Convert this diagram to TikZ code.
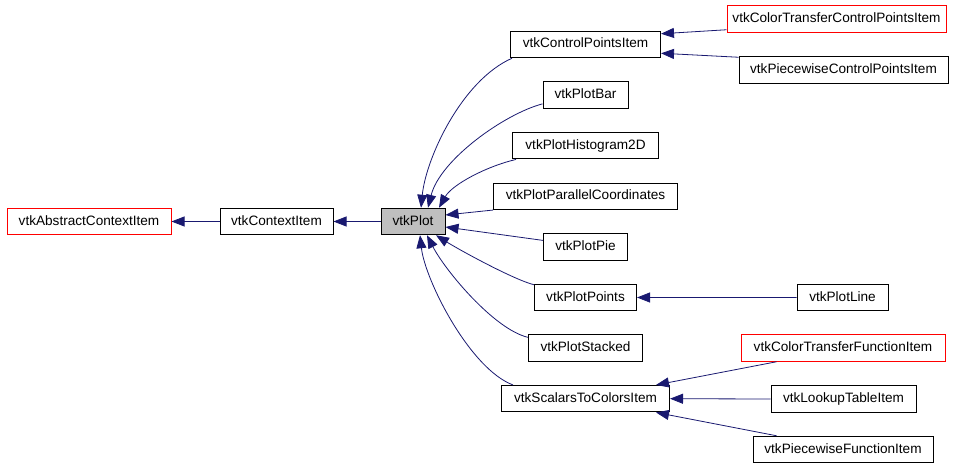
\documentclass[tikz,border=0pt]{standalone}
\usepackage{fontspec}
\setmainfont{Liberation Sans}
\usetikzlibrary{positioning,calc,chains,arrows.meta}
\definecolor{edgeblue}{RGB}{25,25,112}
\definecolor{plotgray}{RGB}{191,191,191}

\begin{document}
\begin{tikzpicture}[
	x=1pt, y=1pt,
	node distance = 23.1pt,
	start chain = C going below,
	box/.style = {rectangle, draw=black, line width=1pt, fill=white,
		minimum height=26.5pt, inner sep=0pt,
		text height=9.8pt, text depth=2.8pt,
		font=\fontsize{13.6}{16}\selectfont},
	redbox/.style = {box, draw=red},
	link/.style = {draw=edgeblue, line width=0.8pt,
		-{Triangle[length=13pt,width=10pt]}},
	]
	\useasboundingbox (0,0) rectangle (965,-468);

	% base classes
	\node[redbox, minimum width=164pt] (aci) at (89,-221.5) {vtkAbstractContextItem};
	\node[box, minimum width=113pt] (ci) at (276.5,-221.5) {vtkContextItem};
	\node[box, fill=plotgray, minimum width=64pt] (plot) at (413,-221.5) {vtkPlot};

	% direct subclasses of vtkPlot
	\begin{scope}[every node/.append style={box, on chain}]
	\node[minimum width=150pt] (cpi) at (585.5,-44.5) {vtkControlPointsItem};
	\node[minimum width=85pt] (bar) {vtkPlotBar};
	\node[minimum width=146pt] (hist) {vtkPlotHistogram2D};
	\node[minimum width=184pt] (par) {vtkPlotParallelCoordinates};
	\node[minimum width=84pt] (pie) {vtkPlotPie};
	\node[minimum width=102pt] (points) {vtkPlotPoints};
	\node[minimum width=114pt] (stacked) {vtkPlotStacked};
	\node[minimum width=168pt] (s2c) {vtkScalarsToColorsItem};
	\end{scope}

	% second level
	\node[redbox, minimum width=219pt] (ctcpi) at (836.5,-19) {vtkColorTransferControlPointsItem};
	\node[box, minimum width=209pt] (pcpi) at (843.5,-70) {vtkPiecewiseControlPointsItem};
	\node[box, minimum width=91pt] (line) at (842.5,-297.5) {vtkPlotLine};
	\node[redbox, minimum width=204pt] (ctfi) at (843,-348) {vtkColorTransferFunctionItem};
	\node[box, minimum width=145pt] (lti) at (843.5,-399) {vtkLookupTableItem};
	\node[box, minimum width=180pt] (pfi) at (843,-449.5) {vtkPiecewiseFunctionItem};

	\draw[link] (ci.west) -- (aci.east);
	\draw[link] (plot.west) -- (ci.east);

	\draw[link] ([xshift=2pt]cpi.south west) .. controls +(-50,-22) and +(5,50) .. ([xshift=8pt]plot.north);
	\draw[link] ([yshift=5pt]bar.south west) .. controls +(-38,-10) and +(12,48) .. ([xshift=15pt]plot.north);
	\draw[link] ([xshift=4pt]hist.south west) .. controls +(-30,-7) and +(13,23) .. ([xshift=26pt]plot.north);
	\draw[link] (par.south west) -- ([yshift=6.5pt]plot.east);
	\draw[link] ([yshift=6.5pt]pie.west) -- ([yshift=-5.5pt]plot.east);
	\draw[link] ([yshift=-1pt]points.north west) .. controls +(-20,5) and +(24,-15) .. ([xshift=23pt]plot.south);
	\draw[link] ([yshift=-3pt]stacked.north west) .. controls +(-34,8) and +(18,-35) .. ([xshift=14pt]plot.south);
	\draw[link] ([xshift=12pt]s2c.north west) .. controls +(-43,16) and +(5,-45) .. ([xshift=7pt]plot.south);

	\draw[link] ([yshift=3pt]ctcpi.south west) -- ([yshift=-3pt]cpi.north east);
	\draw[link] ([yshift=-1pt]pcpi.north west) -- ([yshift=5pt]cpi.south east);
	\draw[link] (line.west) -- (points.east);
	\draw[link] ([xshift=36pt]ctfi.south west) -- ([xshift=-14pt]s2c.north east);
	\draw[link] (lti.west) -- (s2c.east);
	\draw[link] ([xshift=24pt]pfi.north west) -- ([xshift=-14pt]s2c.south east);
\end{tikzpicture}
\end{document}
